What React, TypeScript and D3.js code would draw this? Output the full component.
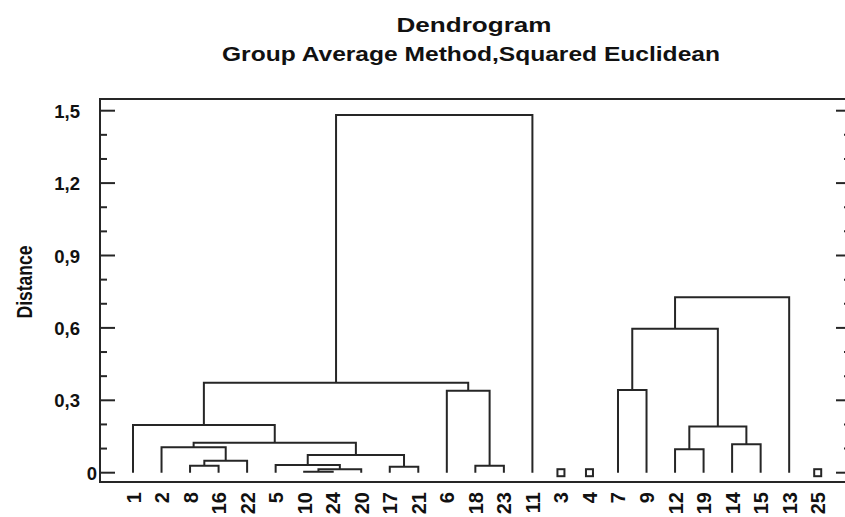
import React from "react";
import * as d3 from "d3";

// ---- data ----
const leafLabels = ["1","2","8","16","22","5","10","24","20","17","21","6","18","23","11","3","4","7","9","12","19","14","15","13","25"];
const isolatedLeaves = ["3","4","25"];
// merge i creates cluster "c{i}" from mergeA[i] and mergeB[i] at mergeHeight[i]
const mergeA = ["10","c0","5","17","c2","8","c5","2","c7","1","18","6","c9","c12","7","12","14","c15","c14","c18"];
const mergeB = ["24","20","c1","21","c3","16","22","c6","c4","c8","23","c10","c11","11","9","19","15","c16","c17","13"];
const mergeHeight = [0.004,0.014,0.032,0.025,0.073,0.029,0.050,0.105,0.124,0.198,0.029,0.340,0.373,1.482,0.343,0.097,0.118,0.191,0.596,0.727];
const yMajorTicks = [0, 0.3, 0.6, 0.9, 1.2, 1.5];
const yTickLabels = ["0","0,3","0,6","0,9","1,2","1,5"];
const titleLines = ["Dendrogram", "Group Average Method,Squared Euclidean"];
const yAxisTitle = "Distance";

const W = 845, H = 517;
const frame = { left: 100, top: 99, right: 851, bottom: 482 };
const stroke = "#262626";

export default function App() {
  const x = d3.scalePoint<string>().domain(leafLabels).range([133, 817.7]);
  const y = d3.scaleLinear().domain([0, 1.5]).range([472.7, 110.7]);

  const pos: Record<string, { x: number; h: number }> = {};
  leafLabels.forEach((l) => (pos[l] = { x: x(l) as number, h: 0 }));
  const paths: string[] = [];
  mergeA.forEach((a, i) => {
    const b = mergeB[i];
    const h = mergeHeight[i];
    const pa = pos[a], pb = pos[b];
    const p = d3.path();
    p.moveTo(pa.x, y(pa.h));
    p.lineTo(pa.x, y(h));
    p.lineTo(pb.x, y(h));
    p.lineTo(pb.x, y(pb.h));
    paths.push(p.toString());
    pos["c" + i] = { x: (pa.x + pb.x) / 2, h };
  });

  const minorTicks = y.ticks(15).filter((t) => !yMajorTicks.some((m) => Math.abs(m - t) < 1e-6));
  const fontArial = "'Liberation Sans', Arial, sans-serif";

  return (
    <svg width={W} height={H} style={{ position: "absolute", left: 0, top: 0, background: "#fff" }}>
      <rect width={W} height={H} fill="#fff" />
      {/* title */}
      <text x={474} y={31.5} textAnchor="middle" fontFamily={fontArial} fontWeight="bold" fontSize={21}
        textLength={155} lengthAdjust="spacingAndGlyphs" fill="#111">{titleLines[0]}</text>
      <text x={471} y={61} textAnchor="middle" fontFamily={fontArial} fontWeight="bold" fontSize={21}
        textLength={498} lengthAdjust="spacingAndGlyphs" fill="#111">{titleLines[1]}</text>

      {/* frame */}
      <rect x={frame.left} y={frame.top} width={frame.right - frame.left} height={frame.bottom - frame.top}
        fill="none" stroke={stroke} strokeWidth={2} />

      {/* y ticks */}
      {yMajorTicks.map((t, i) => (
        <g key={"M" + i}>
          <line x1={frame.left} x2={frame.left + 15} y1={y(t)} y2={y(t)} stroke={stroke} strokeWidth={2} />
          <line x1={frame.right} x2={frame.right - 15} y1={y(t)} y2={y(t)} stroke={stroke} strokeWidth={2} />
          <text x={t === 0 ? 97 : 80} y={y(t) + 7} textAnchor="end" fontFamily={fontArial} fontWeight="bold"
            fontSize={18.5} fill="#111">{yTickLabels[i]}</text>
        </g>
      ))}
      {minorTicks.map((t, i) => (
        <g key={"m" + i}>
          <line x1={frame.left} x2={frame.left + 7} y1={y(t)} y2={y(t)} stroke={stroke} strokeWidth={2} />
          <line x1={frame.right} x2={frame.right - 7} y1={y(t)} y2={y(t)} stroke={stroke} strokeWidth={2} />
        </g>
      ))}

      {/* y axis title */}
      <text transform={`translate(32,282) rotate(-90)`} textAnchor="middle" fontFamily={fontArial}
        fontWeight="bold" fontSize={22} textLength={73} lengthAdjust="spacingAndGlyphs" fill="#111">{yAxisTitle}</text>

      {/* dendrogram links */}
      {paths.map((d, i) => (
        <path key={i} d={d} fill="none" stroke={stroke} strokeWidth={2} />
      ))}

      {/* isolated leaves */}
      {isolatedLeaves.map((l) => (
        <rect key={l} x={(x(l) as number) - 3.5} y={y(0) - 3.5} width={7} height={7} fill="#fff"
          stroke={stroke} strokeWidth={2} />
      ))}

      {/* x labels */}
      {leafLabels.map((l) => (
        <text key={l} transform={`translate(${(x(l) as number) + 7.5},492) rotate(-90)`} textAnchor="end"
          fontFamily={fontArial} fontWeight="bold" fontSize={20} fill="#111">{l}</text>
      ))}
    </svg>
  );
}
